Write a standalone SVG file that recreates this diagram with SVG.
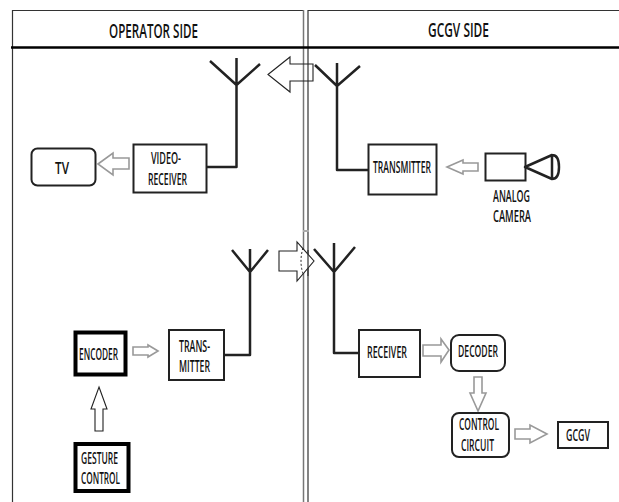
<svg xmlns="http://www.w3.org/2000/svg" width="619" height="502" viewBox="0 0 619 502">
<style>
text{font-family:"Open Sans","Liberation Sans",sans-serif;font-weight:600;font-size:16px;fill:#111}
.h{font-size:19px}
.box{fill:#fff;stroke:#222;stroke-width:2}
.thick{stroke:#000;stroke-width:4}
.wire{fill:none;stroke:#222;stroke-width:2.500;stroke-linejoin:round}
.ga{fill:#fff;stroke:#999;stroke-width:1.600}
.ba{fill:#fff;stroke:#222;stroke-width:1.100}
</style>
<rect width="619" height="502" fill="#fff"/>
<g id="frame" fill="none">
<path d="M12.500 502V10.500H303M308 502V10.500H619" stroke="#333" stroke-width="1.200"/>
<path d="M303.500 10V502" stroke="#777" stroke-width="1.500"/>
<path d="M11 47.500H619" stroke="#000" stroke-width="2.500"/>
<path d="M303 231H309" stroke="#aaa" stroke-width="2"/>
<text class="h" x="109" y="38" textLength="89" lengthAdjust="spacingAndGlyphs">OPERATOR SIDE</text>
<text class="h" x="428" y="37" textLength="61" lengthAdjust="spacingAndGlyphs">GCGV SIDE</text>
</g>
<g id="connectors">
<path class="wire" d="M210 61L236.500 85L260 64M236.500 58V167H204"/>
<path class="wire" d="M315 65L337 86L360 66M337 63V170H368"/>
<path class="wire" d="M232 250L250 272L268 250M250 249V355H225"/>
<path class="wire" d="M314 249L334 272L355 247M334 243V353H360"/>
<path class="ba" fill-opacity="0" style="fill:none" d="M268 74.500L290 57V64H313V81H290V92Z"/>
<path class="ba" d="M279 251H297V242L314 261L297 281V271H279Z"/>
<path d="M303 248Q299 261 303 274" fill="none" stroke="#222" stroke-dasharray="2 2"/>
<path d="M308 250V276" stroke="#333" stroke-width="1.200"/>
<path class="ga" d="M98 164L113 153V158H129V169H113V175Z"/>
<path class="ga" d="M447 167L463 160V163H478V171H463V174Z"/>
<path class="ga" d="M158 351L148 345V347H133V355H148V357Z"/>
<path class="ba" d="M99 387L107 409H103V431H95V409H91Z"/>
<path class="ga" d="M449 350L441 339V345H423V356H441V362Z"/>
<path class="ga" d="M478 411L470 393H474V377H482V393H486Z"/>
<path class="ga" d="M547 434L530 425V429H515V439H530V443Z"/>
</g>
<g id="tv"><rect class="box" x="31.500" y="148.500" width="64" height="37" rx="6"/><text x="55" y="174" textLength="14" lengthAdjust="spacingAndGlyphs">TV</text></g>
<g id="video-receiver"><rect class="box" x="133.500" y="144.500" width="73" height="48"/><text x="151" y="164" textLength="30" lengthAdjust="spacingAndGlyphs">VIDEO-</text><text x="148" y="185" textLength="39" lengthAdjust="spacingAndGlyphs">RECEIVER</text></g>
<g id="transmitter"><rect class="box" x="368.500" y="144.500" width="68" height="50"/><text x="373" y="173" textLength="58" lengthAdjust="spacingAndGlyphs">TRANSMITTER</text></g>
<g id="camera"><rect class="box" x="485.500" y="153.500" width="40" height="27"/><path class="wire" d="M525 167L552 155V179ZM552 155Q559 155 559 167T552 179"/><text x="493" y="202" textLength="37" lengthAdjust="spacingAndGlyphs">ANALOG</text><text x="493" y="222" textLength="38" lengthAdjust="spacingAndGlyphs">CAMERA</text></g>
<g id="encoder"><rect class="box thick" x="75.500" y="332.500" width="50" height="42"/><text x="79" y="360" textLength="39" lengthAdjust="spacingAndGlyphs">ENCODER</text></g>
<g id="transmitter-2"><rect class="box" x="169" y="330" width="55" height="50"/><text x="179" y="352" textLength="31" lengthAdjust="spacingAndGlyphs">TRANS-</text><text x="179" y="372" textLength="31" lengthAdjust="spacingAndGlyphs">MITTER</text></g>
<g id="gesture"><rect class="box thick" x="75.500" y="444" width="53" height="47"/><text x="81" y="464" textLength="37" lengthAdjust="spacingAndGlyphs">GESTURE</text><text x="81" y="484" textLength="39" lengthAdjust="spacingAndGlyphs">CONTROL</text></g>
<g id="receiver"><rect class="box" x="359" y="330" width="61" height="47"/><text x="367" y="358" textLength="40" lengthAdjust="spacingAndGlyphs">RECEIVER</text></g>
<g id="decoder"><rect class="box" x="451" y="335" width="54" height="36" rx="8"/><text x="458" y="357" textLength="40" lengthAdjust="spacingAndGlyphs">DECODER</text></g>
<g id="control"><rect class="box" x="452" y="413" width="57" height="44" rx="7"/><text x="459" y="430" textLength="40" lengthAdjust="spacingAndGlyphs">CONTROL</text><text x="461" y="451" textLength="33" lengthAdjust="spacingAndGlyphs">CIRCUIT</text></g>
<g id="gcgv"><rect class="box" x="558" y="422" width="50" height="26"/><text x="566" y="441" textLength="24" lengthAdjust="spacingAndGlyphs">GCGV</text></g>
</svg>
